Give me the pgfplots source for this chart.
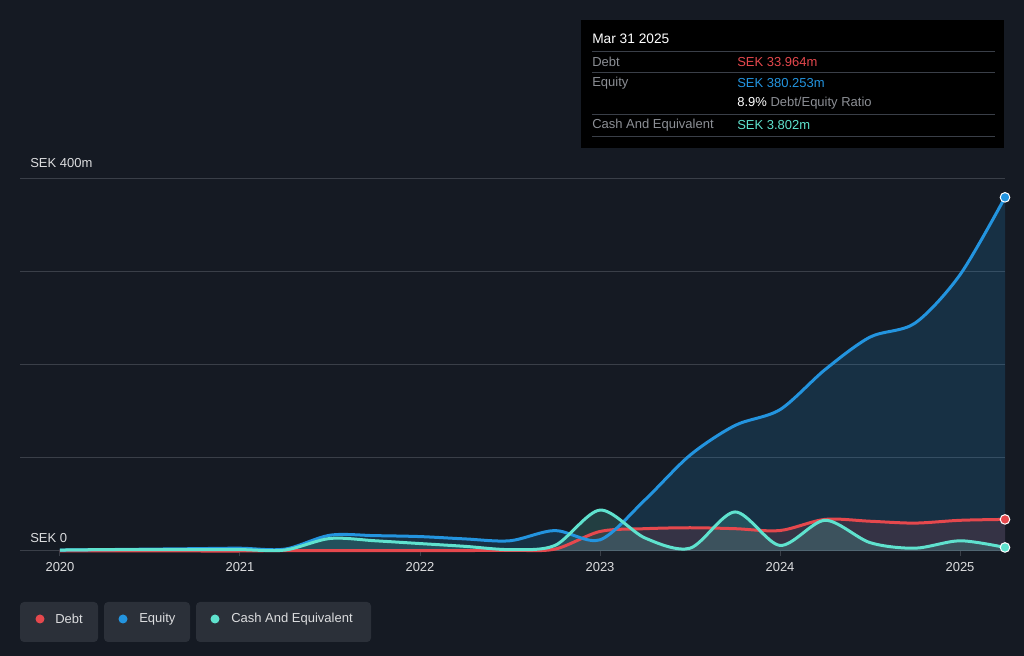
\documentclass[border=0pt]{standalone}
\usepackage{pgfplots}
\pgfplotsset{compat=1.18}
\usepackage{fontspec}
\setmainfont{Liberation Sans}

\definecolor{bg}{HTML}{151A23}
\definecolor{gridc}{HTML}{3A3F48}
\definecolor{tickc}{HTML}{DCDDDF}
\definecolor{debtc}{HTML}{E5484D}
\definecolor{equityc}{HTML}{2394DF}
\definecolor{cashc}{HTML}{5FE2CE}
\definecolor{tipgrey}{HTML}{8C8F95}
\definecolor{btn}{HTML}{2B3039}

\pgfplotstableread{
x y
2020 0
2020.25 0
2020.5 0
2020.75 0
2021 0
2021.25 0.5
2021.5 0.5
2021.75 0.5
2022 0.5
2022.25 0.5
2022.5 0.8
2022.75 2
2023 21
2023.25 24
2023.5 25
2023.75 24
2024 22
2024.25 34
2024.5 32
2024.75 30
2025 33
2025.25 33.964
}\debt

\pgfplotstableread{
x y
2020 1
2020.25 1.5
2020.5 2
2020.75 2.5
2021 3
2021.25 2
2021.5 17
2021.75 16.5
2022 15.5
2022.25 13
2022.5 11
2022.75 22
2023 12
2023.25 55
2023.5 103
2023.75 135
2024 152
2024.25 195
2024.5 230
2024.75 245
2025 297
2025.25 380.253
}\equity

\pgfplotstableread{
x y
2020 1
2020.25 1.5
2020.5 1.5
2020.75 1.5
2021 1.5
2021.25 1
2021.5 13.5
2021.75 11
2022 8
2022.25 5
2022.5 1.5
2022.75 6
2023 44
2023.25 14
2023.5 3
2023.75 42
2024 6
2024.25 33
2024.5 9
2024.75 3
2025 11
2025.25 3.802
}\cash

\begin{document}
\begin{tikzpicture}[x=0.75pt,y=0.75pt,font=\fontsize{9.75}{12}\selectfont]
\fill[bg] (0,0) rectangle (1024,656);
\useasboundingbox (0,0) rectangle (1024,656);

\begin{axis}[
  at={(15pt,78.75pt)}, anchor=south west,
  scale only axis, width=738.75pt, height=279pt,
  xmin=2019.7778, xmax=2025.25, ymin=0, ymax=400,
  clip=false,
  axis line style={draw=none},
  ytick={0,100,200,300,400}, yticklabels={},
  ymajorgrids, grid style={color=gridc, line width=0.75pt},
  ytick style={draw=none},
  xtick={2020,2021,2022,2023,2024,2025},
  xticklabels={2020,2021,2022,2023,2024,2025},
  xtick pos=bottom, tick align=outside, major tick length=3.75pt,
  xtick style={color=gridc, line width=0.75pt},
  xticklabel style={text=tickc, font=\fontsize{9.75}{12}\selectfont, yshift=-1pt},
]
% area fills
\addplot[draw=none, fill=equityc, fill opacity=0.18, smooth] table {\equity} \closedcycle;
\addplot[draw=none, fill=debtc, fill opacity=0.15, smooth] table {\debt} \closedcycle;
\addplot[draw=none, fill=cashc, fill opacity=0.18, smooth] table {\cash} \closedcycle;
% lines
\addplot[debtc, line width=2.25pt, smooth] table {\debt};
\addplot[equityc, line width=2.25pt, smooth] table {\equity};
\addplot[cashc, line width=2.25pt, smooth] table {\cash};
% end markers
\addplot[only marks, mark=*, mark size=3.6pt, mark options={fill=debtc, draw=white, line width=0.75pt}] coordinates {(2025.25,33.964)};
\addplot[only marks, mark=*, mark size=3.6pt, mark options={fill=equityc, draw=white, line width=0.75pt}] coordinates {(2025.25,380.253)};
\addplot[only marks, mark=*, mark size=3.6pt, mark options={fill=cashc, draw=white, line width=0.75pt}] coordinates {(2025.25,3.802)};
\end{axis}

% y labels
\node[anchor=west, text=tickc, inner sep=0] at (30,493) {SEK 400m};
\node[anchor=west, text=tickc, inner sep=0] at (30,118) {SEK 0};

% tooltip
\fill[black] (581,508) rectangle (1004,636);
\draw[gridc, line width=0.75pt] (592,604) -- (995,604);
\draw[gridc, line width=0.75pt] (592,583) -- (995,583);
\draw[gridc, line width=0.75pt] (592,541) -- (995,541);
\draw[gridc, line width=0.75pt] (592,519) -- (995,519);
\node[anchor=west, inner sep=0, text=white, font=\fontsize{10.3}{12}\selectfont] at (592,617) {Mar 31 2025};
\node[anchor=west, inner sep=0, text=tipgrey] at (592,594) {Debt};
\node[anchor=west, inner sep=0, text=debtc] at (737,594) {SEK 33.964m};
\node[anchor=west, inner sep=0, text=tipgrey] at (592,573) {Equity};
\node[anchor=west, inner sep=0, text=equityc] at (737,573) {SEK 380.253m};
\node[anchor=west, inner sep=0, text=tipgrey] at (737,552.5) {\textcolor{white}{8.9\%} Debt/Equity Ratio};
\node[anchor=west, inner sep=0, text=tipgrey] at (592,531) {Cash And Equivalent};
\node[anchor=west, inner sep=0, text=cashc] at (737,531) {SEK 3.802m};

% legend
\fill[btn, rounded corners=3pt] (20,14) rectangle (98,54);
\fill[btn, rounded corners=3pt] (104,14) rectangle (190,54);
\fill[btn, rounded corners=3pt] (196,14) rectangle (371,54);
\fill[debtc] (40,37) circle (4.5);
\fill[equityc] (123,37) circle (4.5);
\fill[cashc] (215,37) circle (4.5);
\node[anchor=west, inner sep=0, text=tickc] at (55,37) {Debt};
\node[anchor=west, inner sep=0, text=tickc] at (139,37) {Equity};
\node[anchor=west, inner sep=0, text=tickc] at (231,37) {Cash And Equivalent};
\end{tikzpicture}
\end{document}
